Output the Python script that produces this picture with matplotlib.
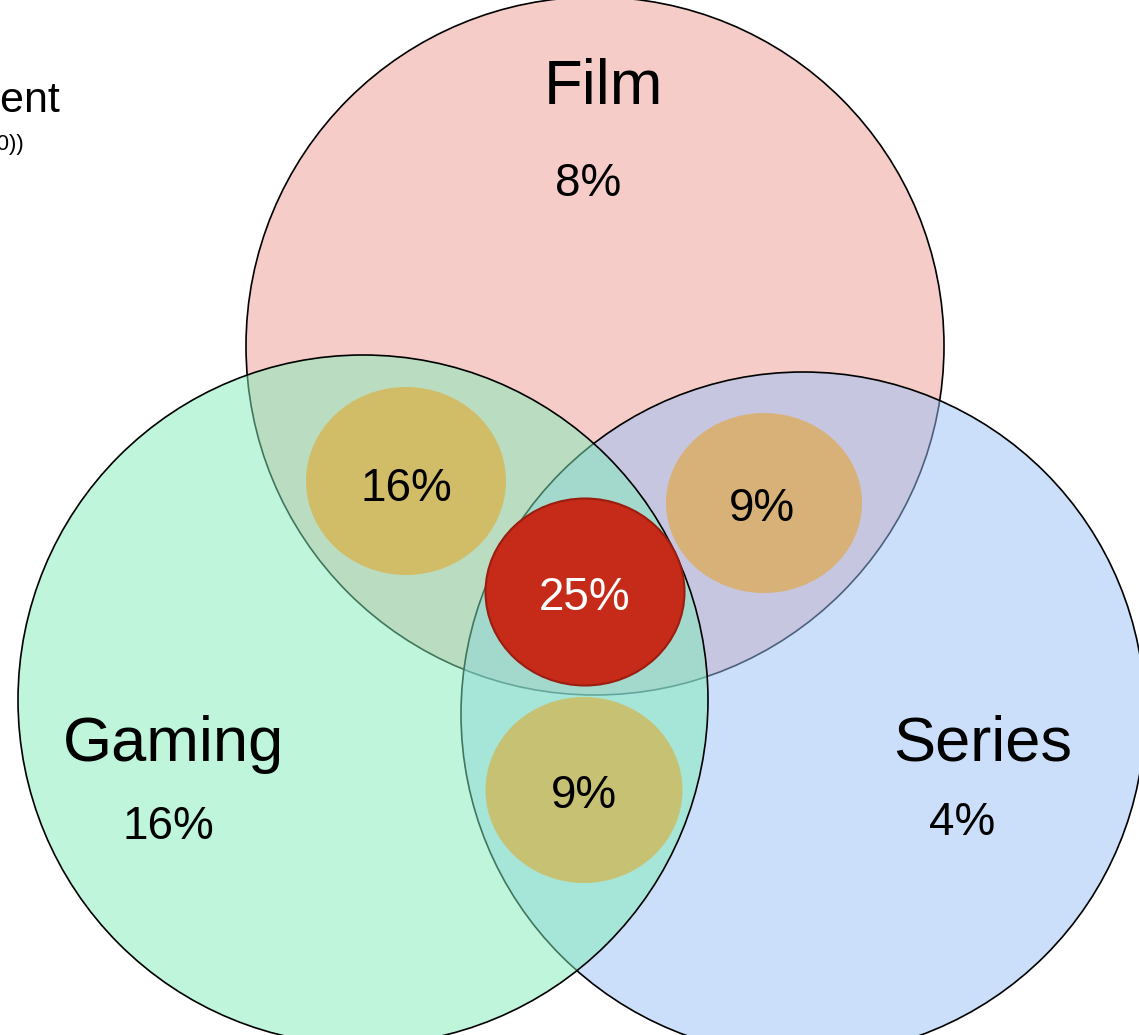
import matplotlib
matplotlib.use("Agg")
import matplotlib.pyplot as plt
from matplotlib.patches import Circle, Ellipse

plt.rcParams['font.family'] = ['Liberation Sans', 'DejaVu Sans']

# Data
set_names = ["Film", "Series", "Gaming"]
set_only_pct = ["8%", "4%", "16%"]
overlap_names = ["Film & Gaming", "Film & Series", "Gaming & Series", "All three"]
overlap_pct = ["16%", "9%", "9%", "25%"]
title_text = "Entertainment Engagement"
subtitle_text = "(share of respondents (n=1000))"

W, H = 1139, 1035
fig = plt.figure(figsize=(W / 100, H / 100), dpi=100)
ax = fig.add_axes([0, 0, 1, 1])
ax.set_xlim(0, W)
ax.set_ylim(H, 0)
ax.set_aspect('equal')
ax.axis('off')

# big circles: draw order Film, Series, Gaming (later fills tint earlier edges)
circles = {
    "Film": dict(c=(595, 346), r=349, color=(237/255, 155/255, 147/255)),
    "Series": dict(c=(803, 714), r=342, color=(153/255, 193/255, 249/255)),
    "Gaming": dict(c=(363, 700), r=345, color=(129/255, 237/255, 185/255)),
}
for name in ["Film", "Series", "Gaming"]:
    d = circles[name]
    ax.add_patch(Circle(d["c"], d["r"], facecolor=(*d["color"], 0.5),
                        edgecolor='black', lw=1.2))

# overlap ellipses
ov_geom = {
    "Film & Gaming": ((406, 481), 200, 188),
    "Film & Series": ((764, 503), 196, 180),
    "Gaming & Series": ((584, 790), 197, 186),
}
orange = (233/255, 158/255, 16/255, 0.5)
for name in overlap_names[:3]:
    c, w, h = ov_geom[name]
    ax.add_patch(Ellipse(c, w, h, facecolor=orange, edgecolor='none', zorder=3))
ax.add_patch(Ellipse((585, 592), 199, 187, facecolor='#c62a18',
                     edgecolor='#9a1e10', lw=1.5, zorder=4))

# labels
name_pos = {"Film": (603, 88), "Series": (983, 744), "Gaming": (174, 744)}
pct_pos = {"Film": (588, 184), "Series": (962, 823), "Gaming": (168, 827)}
for n, p in zip(set_names, set_only_pct):
    ax.text(*name_pos[n], n, fontsize=45.5, ha='center', va='center', zorder=5)
    ax.text(*pct_pos[n], p, fontsize=33, ha='center', va='center', zorder=5)

ov_text_pos = {"Film & Gaming": (406, 489), "Film & Series": (762, 509),
               "Gaming & Series": (584, 796), "All three": (585, 598)}
for n, p in zip(overlap_names, overlap_pct):
    col = 'white' if n == "All three" else 'black'
    ax.text(*ov_text_pos[n], p, fontsize=33, ha='center', va='center',
            color=col, zorder=6)

# title (partially off canvas)
ax.text(60, 112, title_text, fontsize=31, ha='right', va='baseline', zorder=6)
ax.text(24, 150, subtitle_text, fontsize=16, ha='right', va='baseline', zorder=6)

fig.savefig("out.png", dpi=100)
